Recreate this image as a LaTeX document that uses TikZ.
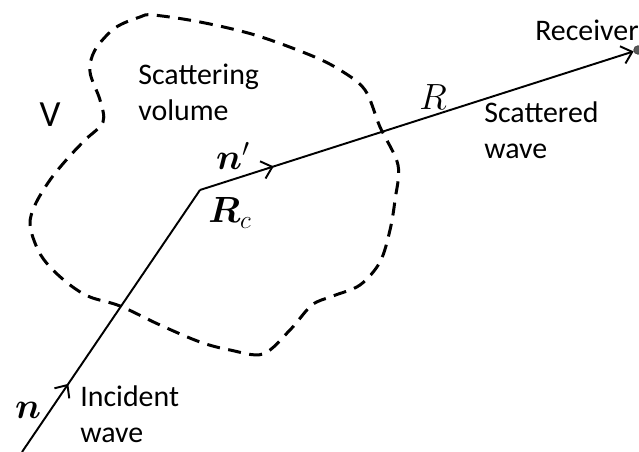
\documentclass[tikz,border=0pt]{standalone}
\usepackage{amsmath}
\usepackage{amssymb}
\usepackage{fontspec}
\setmainfont{Carlito}
\usepackage{tikz}
\usetikzlibrary{arrows.meta,decorations.markings,calc}

\begin{document}
\begin{tikzpicture}[
    volline/.style={draw=black, line width=1.7pt, dash pattern=on 0.26cm off 0.17cm},
    ray/.style={draw=black, line width=1.1pt},
    tip/.style={-{Straight Barb[length=2mm, width=3.6mm, line width=1.1pt]}},
    midtip/.style={postaction={decorate}, decoration={markings, mark=at position #1 with {\arrow{Straight Barb[length=2mm, width=3.6mm, line width=1.1pt]}}}},
    lbl/.style={font=\fontsize{17}{20.5}\selectfont, align=left, inner sep=0pt},
    mlbl/.style={font=\fontsize{21}{24}\selectfont, inner sep=0pt}
]
    \useasboundingbox (0,0) rectangle (12.78,9.04);

    % scattering volume
    \draw [volline] plot [smooth cycle, tension=0.55] coordinates {
        (3.06,8.74) (4.0,8.6) (5.1,8.34) (6.2,7.94) (6.8,7.64) (7.3,7.24)
        (7.6,6.5) (7.96,5.74) (7.9,5.04) (7.8,4.44) (7.6,3.8) (7.2,3.34)
        (6.66,3.12) (6.24,2.94) (5.8,2.44) (5.26,1.96) (4.6,2.04) (4.0,2.2)
        (3.2,2.54) (2.4,2.92) (1.8,3.1) (1.4,3.34) (1.0,3.7) (0.76,4.04)
        (0.6,4.54) (0.7,4.94) (1.0,5.44) (1.36,5.88) (1.7,6.24) (2.06,6.6)
        (2.0,7.04) (1.8,7.6) (1.9,8.04) (2.3,8.48) (2.8,8.7)};

    \coordinate (src) at (0.44,0);
    \coordinate (rc) at (4.0,5.24);
    \node [circle, fill=gray!70!black, draw=gray!50!black, inner sep=0pt, minimum size=0.17cm] (rcv) at (12.76,8.04) {};

    \draw [ray, midtip=0.26] (src) -- (rc);
    \draw [ray, tip, midtip=0.17] (rc) -- (rcv);

    % labels
    \node [lbl, font=\fontsize{21}{24}\selectfont] (vol) at (1.0,6.74) {V};
    \node [lbl, anchor=west] (scv) at (2.76,7.2) {Scattering\\volume};
    \node [lbl, anchor=east] (rcvlbl) at (12.78,8.44) {Receiver};
    \node [lbl, anchor=west] (scw) at (9.68,6.44) {Scattered\\wave};
    \node [lbl, anchor=west] (inw) at (1.6,0.76) {Incident\\wave};
    \node [mlbl] (nlbl) at (0.56,0.84) {$\boldsymbol{n}$};
    \node [mlbl] (nplbl) at (4.66,5.92) {$\boldsymbol{n}'$};
    \node [mlbl] (rclbl) at (4.6,4.78) {$\boldsymbol{R}_c$};
    \node [mlbl] (rlbl) at (8.66,7.1) {$R$};
\end{tikzpicture}
\end{document}
